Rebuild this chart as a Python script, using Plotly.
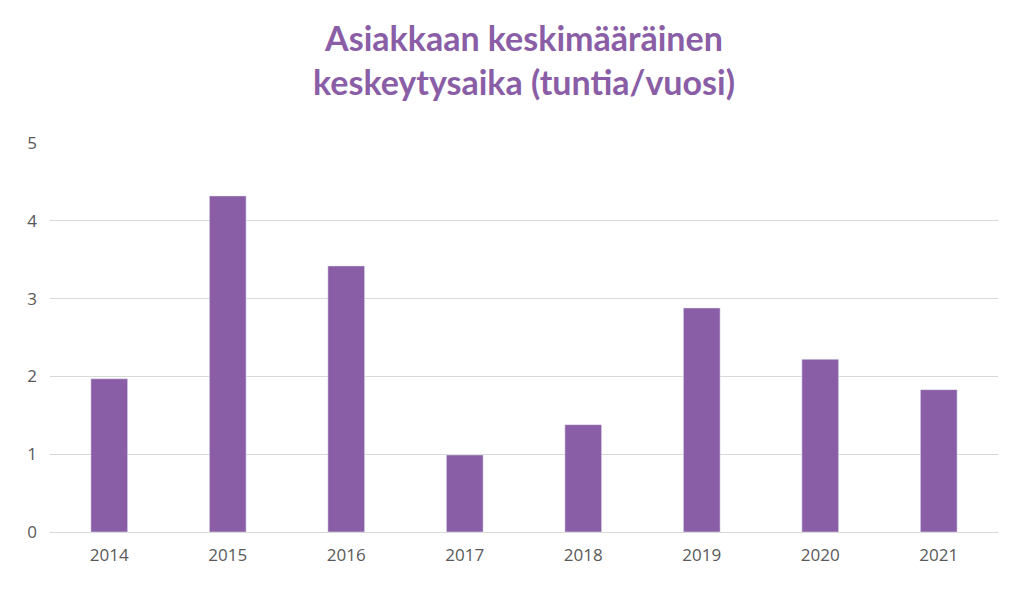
import plotly.graph_objects as go

years = ["2014", "2015", "2016", "2017", "2018", "2019", "2020", "2021"]
values = [1.97, 4.32, 3.42, 0.99, 1.38, 2.88, 2.22, 1.83]
y_ticks = [0, 1, 2, 3, 4, 5]

fig = go.Figure(go.Bar(x=years, y=values, marker_color="#8A5EA6", width=0.31))
fig.update_layout(
    width=1024, height=594,
    margin=dict(l=42, r=34, t=135, b=70),
    paper_bgcolor="white", plot_bgcolor="white",
    font=dict(family="Open Sans", size=17, color="#595959"),
    showlegend=False,
    annotations=[dict(text="Asiakkaan keskimääräinen<br>keskeytysaika (tuntia/vuosi)",
                      xref="paper", yref="paper", x=0.5, y=1.33, xanchor="center", yanchor="top",
                      showarrow=False, align="center",
                      font=dict(family="Lato", size=34, color="#8A5EA6", weight="bold"))],
)
fig.update_yaxes(range=[0, 5], tickvals=y_ticks, gridcolor="#D9D9D9", zeroline=False,
                 ticks="", ticklabelstandoff=12)
fig.update_xaxes(showline=True, linecolor="#D9D9D9", ticks="", ticklabelstandoff=8)
fig.write_html("out.html")
